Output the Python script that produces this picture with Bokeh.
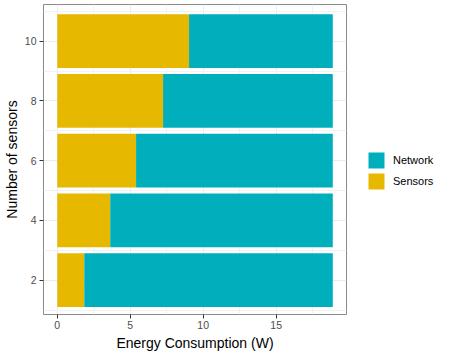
from bokeh.plotting import figure
from bokeh.models import ColumnDataSource, FixedTicker, Range1d, Legend, LegendItem
from bokeh.embed import file_html
from bokeh.resources import INLINE

sensors_n = [2, 4, 6, 8, 10]
sensors_w = [1.85, 3.63, 5.40, 7.25, 9.03]
network_w = [17.03, 15.25, 13.48, 11.63, 9.85]
x_ticks = [0, 5, 10, 15]
y_ticks = [2, 4, 6, 8, 10]

src = ColumnDataSource(dict(n=sensors_n, sensors=sensors_w, network=network_w))

FONT = "Liberation Sans"
p = figure(output_backend="svg", toolbar_location=None,
           x_range=Range1d(-0.944, 19.82), y_range=Range1d(0.85, 11.23),
           frame_width=303, frame_height=310,
           min_border_left=0, min_border_top=4, min_border_bottom=0, min_border_right=0)

rs = p.hbar_stack(["sensors", "network"], y="n", height=1.8, source=src,
                  color=["#E7B800", "#00AFBB"], line_color=None)

p.xaxis.ticker = FixedTicker(ticks=x_ticks, minor_ticks=[2.5, 7.5, 12.5, 17.5])
p.yaxis.ticker = FixedTicker(ticks=y_ticks, minor_ticks=[1, 3, 5, 7, 9, 11])

for ax in (p.xaxis, p.yaxis):
    ax.axis_line_color = None
    ax.major_tick_line_color = "#333333"
    ax.major_tick_in = 0
    ax.major_tick_out = 4
    ax.minor_tick_line_color = None
    ax.major_label_text_color = "#4D4D4D"
    ax.major_label_text_font = FONT
    ax.major_label_text_font_size = "10.5px"
    ax.axis_label_text_font = FONT
    ax.axis_label_text_font_size = "14px"
    ax.axis_label_text_font_style = "normal"
    ax.axis_label_text_color = "#000000"

p.yaxis.major_label_standoff = 3
p.yaxis.axis_label_standoff = 2
p.xaxis.major_label_standoff = 2
p.xaxis.axis_label_standoff = 3

p.xaxis.axis_label = "Energy Consumption (W)"
p.yaxis.axis_label = "Number of sensors"

for g in (p.xgrid, p.ygrid):
    g.grid_line_color = "#EBEBEB"
    g.grid_line_width = 1
    g.minor_grid_line_color = "#F2F2F2"
    g.minor_grid_line_width = 1

p.outline_line_color = "#8a8a8a"
p.outline_line_width = 1
p.background_fill_color = "white"
p.border_fill_color = "white"

legend = Legend(items=[LegendItem(label="Network", renderers=[rs[1]]),
                       LegendItem(label="Sensors", renderers=[rs[0]])],
                location=(20, 123), orientation="vertical",
                glyph_width=20, glyph_height=20, spacing=1, padding=0, margin=0,
                label_standoff=7, label_text_font=FONT, label_text_font_size="11px",
                label_text_color="#000000",
                label_height=20, border_line_color=None, background_fill_alpha=0)
p.add_layout(legend, "right")

open("out.html", "w").write(file_html(p, INLINE))
